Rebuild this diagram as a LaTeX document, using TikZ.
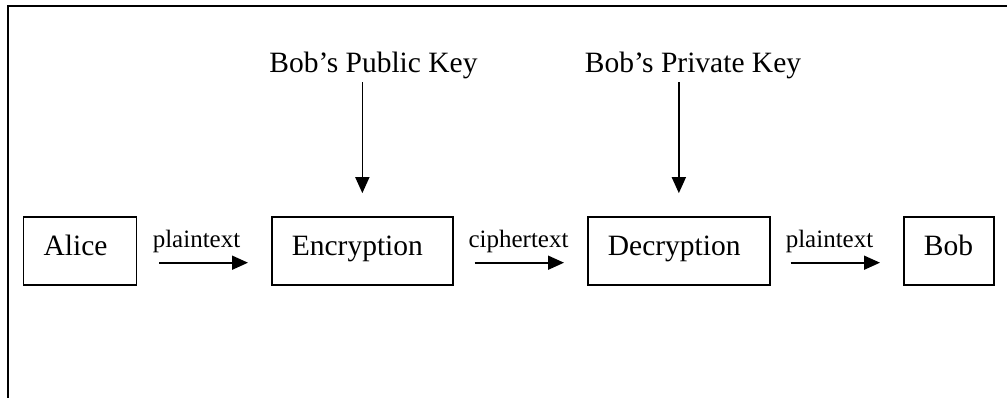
\documentclass[tikz,border=0pt]{standalone}
\usepackage{fontspec}
\setmainfont{Liberation Serif}
\usetikzlibrary{arrows.meta}
\begin{document}
\begin{tikzpicture}[x=1pt, y=-1pt,
    bigfont/.style={font=\fontsize{29.5}{35}\selectfont},
    smallfont/.style={font=\fontsize{25}{30}\selectfont},
    stage/.style={draw, line width=1.7pt, bigfont, inner xsep=20pt, inner ysep=0pt,
      text height=20pt, text depth=10pt, minimum height=68pt, anchor=west},
    keylabel/.style={bigfont, anchor=base, inner sep=0pt},
    flowlabel/.style={smallfont, anchor=base, inner sep=0pt},
    flow/.style={line width=1.7pt, -{Triangle[length=16pt, width=14pt]}}
  ]
  \useasboundingbox (0,0) rectangle (1007,398);

  % frame
  \draw[line width=2.4pt] (8,398) -- (8,6) -- (1007,6);

  % stages
  \node[stage, text width=73pt]  (alice) at (22.7,251) {Alice};
  \node[stage, text width=141pt] (enc)   at (271,251)  {Encryption};
  \node[stage, text width=142pt] (dec)   at (587,251)  {Decryption};
  \node[stage, text width=50pt]  (bob)   at (903,251)  {Bob};

  % keys
  \node[keylabel] (pub)  at (373.5,73) {Bob’s Public Key};
  \node[keylabel] (priv) at (693,73)   {Bob’s Private Key};
  \draw[flow, shorten <=2.5pt, shorten >=23pt] (pub.south -| enc.north) -- (enc.north);
  \draw[flow, shorten <=2.5pt, shorten >=23pt] (priv.south -| dec.north) -- (dec.north);

  % message flow
  \draw[flow, shorten <=22pt, shorten >=23pt] ([yshift=-11.7pt]alice.east) -- ([yshift=-11.7pt]enc.west);
  \draw[flow, shorten <=21pt, shorten >=23pt] ([yshift=-11.7pt]enc.east) -- ([yshift=-11.7pt]dec.west);
  \draw[flow, shorten <=20pt, shorten >=23pt] ([yshift=-11.7pt]dec.east) -- ([yshift=-11.7pt]bob.west);
  \node[flowlabel] (p1) at (196.5,248) {plaintext};
  \node[flowlabel] (c1) at (518.5,248) {ciphertext};
  \node[flowlabel] (p2) at (829.5,248) {plaintext};
\end{tikzpicture}
\end{document}
